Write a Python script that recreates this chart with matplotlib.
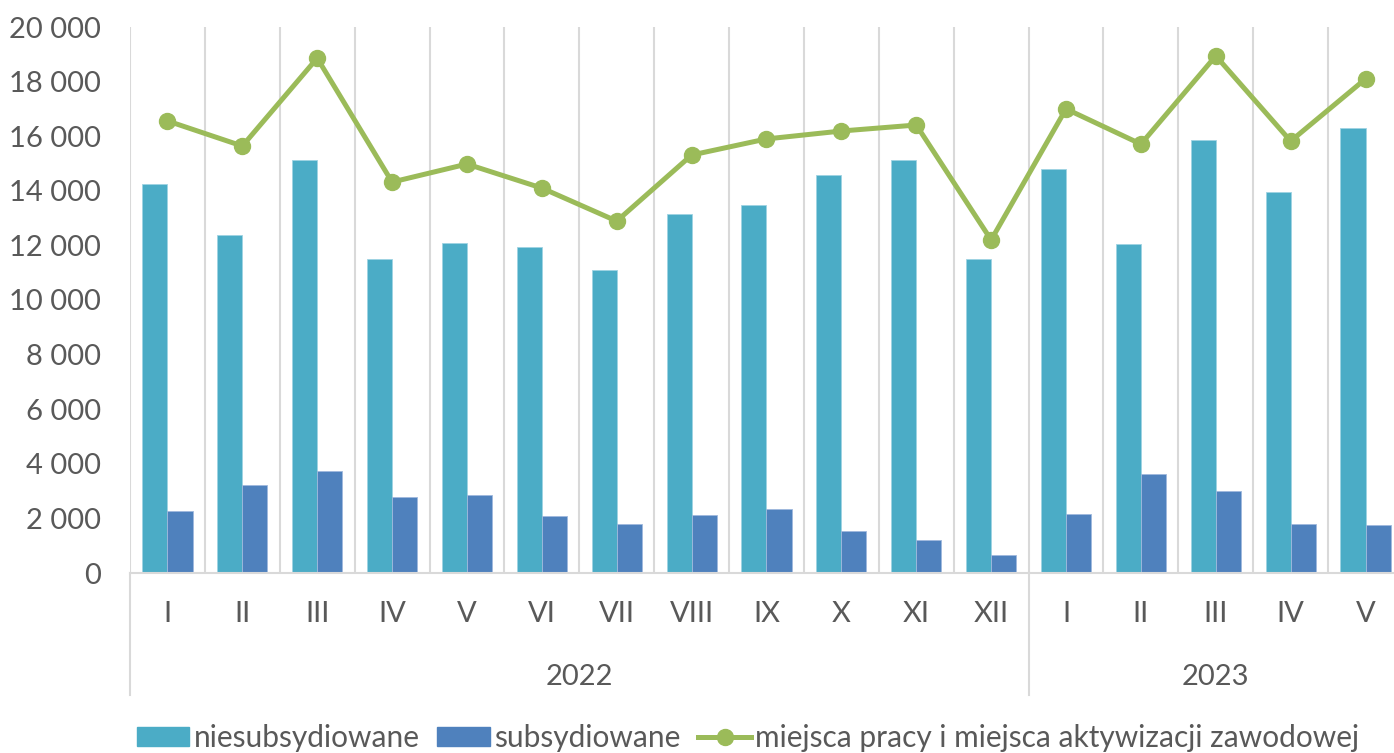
import numpy as np
import matplotlib.pyplot as plt
from matplotlib.ticker import FuncFormatter, MultipleLocator
from matplotlib.transforms import blended_transform_factory
from matplotlib.patches import Patch
from matplotlib.lines import Line2D

plt.rcParams['font.family'] = ['Lato', 'DejaVu Sans']

months = ["I", "II", "III", "IV", "V", "VI", "VII", "VIII", "IX", "X", "XI", "XII",
          "I", "II", "III", "IV", "V"]
years = ["2022", "2023"]
year_counts = [12, 5]

niesubsydiowane = [14250, 12380, 15130, 11500, 12090, 11940, 11100, 13150, 13480,
                   14580, 15130, 11500, 14800, 12050, 15860, 13960, 16300]
subsydiowane = [2270, 3220, 3740, 2780, 2860, 2090, 1800, 2130, 2340,
                1540, 1210, 660, 2160, 3630, 3000, 1800, 1760]
miejsca = [16560, 15640, 18860, 14320, 14980, 14100, 12890, 15310, 15900,
           16190, 16410, 12200, 17000, 15710, 18940, 15820, 18100]

c_nie = "#4BACC6"
c_sub = "#4F81BD"
c_line = "#9BBB59"
c_text = "#595959"
c_grid = "#D9D9D9"
fs = 21

fig = plt.figure(figsize=(13.94, 7.53), dpi=100)
ax = fig.add_axes([130 / 1394, 180 / 753, 1273 / 1394, 546 / 753])

x = np.arange(len(months))
w = 0.335
ax.bar(x - w / 2, niesubsydiowane, w, color=c_nie, edgecolor="#9fd3e3", linewidth=0.6, zorder=2)
ax.bar(x + w / 2, subsydiowane, w, color=c_sub, edgecolor="#9fb9dd", linewidth=0.6, zorder=2)
ax.plot(x, miejsca, color=c_line, lw=3.6, marker="o", ms=11.5, zorder=3)

ax.set_xlim(-0.5, len(months) - 0.5)
ax.set_ylim(0, 20000)
ax.yaxis.set_major_locator(MultipleLocator(2000))
ax.yaxis.set_major_formatter(FuncFormatter(lambda v, p: f"{int(v):,}".replace(",", " ")))

# vertical gridlines between categories
for b in np.arange(-0.5, len(months), 1.0):
    ax.axvline(b, color=c_grid, lw=1.5, zorder=1)

for s in ["top", "right", "left"]:
    ax.spines[s].set_visible(False)
ax.spines["bottom"].set_color(c_grid)
ax.spines["bottom"].set_linewidth(1.5)

ax.set_xticks(x)
ax.set_xticklabels(months)
ax.tick_params(axis="x", length=0, pad=20, labelsize=fs, labelcolor=c_text)
ax.tick_params(axis="y", length=0, pad=21, labelsize=fs, labelcolor=c_text)

# year groups
trans = blended_transform_factory(ax.transData, ax.transAxes)
start = 0
bounds = [-0.5]
for yr, n in zip(years, year_counts):
    ax.text(start + (n - 1) / 2, -0.1905, yr, transform=trans, ha="center", va="center",
            fontsize=fs, color=c_text)
    start += n
    bounds.append(start - 0.5)
for b in bounds:
    ax.plot([b, b], [0, -0.2234], transform=trans, color=c_grid, lw=1.5, clip_on=False)

handles = [Patch(color=c_nie, label="niesubsydiowane"),
           Patch(color=c_sub, label="subsydiowane"),
           Line2D([], [], color=c_line, lw=3.6, marker="o", ms=11.5,
                  label="miejsca pracy i miejsca aktywizacji zawodowej")]
fig.legend(handles=handles, loc="center", bbox_to_anchor=(748 / 1394, 1 - 738 / 753), ncol=3,
           frameon=False, fontsize=21.5, labelcolor=c_text, handlelength=1.75, handletextpad=0.15,
           columnspacing=0.6, handleheight=0.65)

fig.savefig("out.png", dpi=100)
